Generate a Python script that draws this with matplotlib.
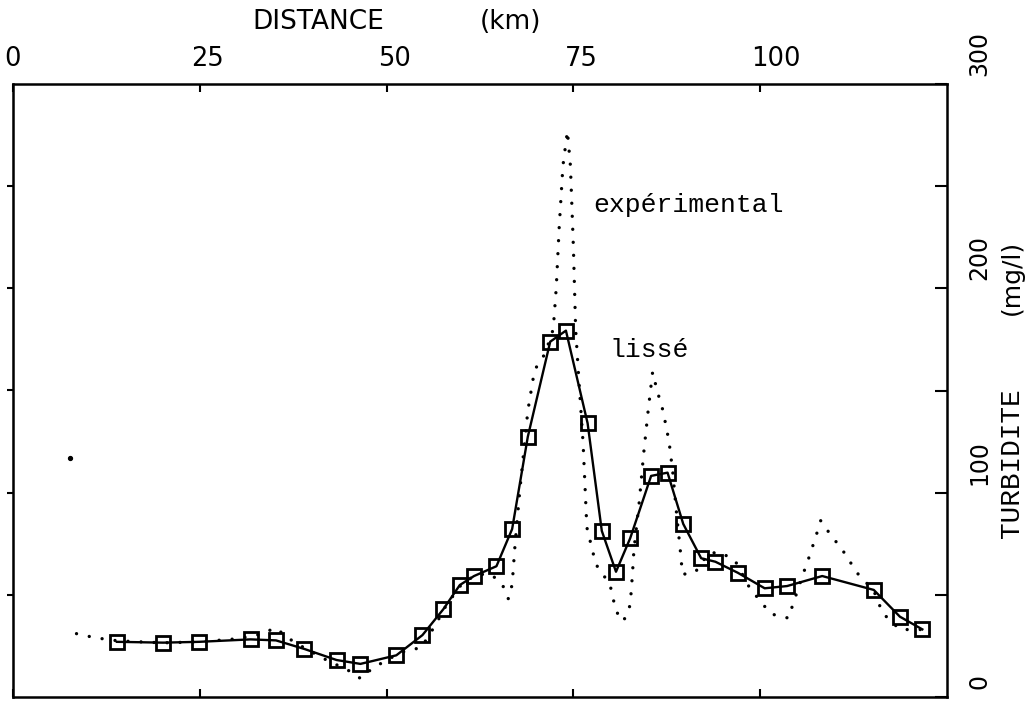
import matplotlib
matplotlib.use("Agg")
import matplotlib.pyplot as plt
import matplotlib.transforms as mtransforms
from matplotlib import font_manager

# ---- data -------------------------------------------------------------
dist_lisse = [13.9, 20.1, 24.9, 31.8, 35.2, 39.0, 43.3, 46.5, 51.3, 54.8,
              57.6, 59.8, 61.7, 64.7, 66.8, 68.9, 71.9, 74.0, 76.9, 78.8,
              80.7, 82.6, 85.4, 87.6, 89.7, 92.1, 94.0, 97.0, 100.6, 103.6,
              108.3, 115.2, 118.7, 121.7]
turb_lisse = [27.0, 26.6, 27.0, 28.2, 27.7, 23.5, 18.1, 16.2, 20.4, 30.3,
              43.0, 54.8, 59.2, 64.0, 82.2, 127.4, 173.9, 179.3, 134.0, 81.3,
              61.3, 77.7, 108.2, 109.8, 84.7, 67.9, 66.2, 60.8, 53.2, 54.3,
              59.2, 52.4, 39.3, 33.1]

dist_exp = [8.5, 11.0, 14.0, 20.0, 25.0, 30.0, 33.3, 35.1, 37.1, 39.0,
            42.0, 44.8, 46.5, 48.2, 51.0, 52.8, 54.6, 56.5, 58.0, 60.0,
            62.0, 64.0, 65.5, 66.3, 66.8, 67.2, 67.8, 68.9, 69.8, 71.2,
            72.3, 72.7, 73.1, 73.6, 74.2, 74.6, 75.0, 75.3, 75.7, 76.3,
            76.8, 78.0, 79.9, 80.7, 81.7, 82.6, 82.9, 83.1, 83.8, 84.4,
            85.0, 85.6, 86.2, 87.0, 87.8, 88.3, 88.8, 89.3, 89.6, 91.3,
            93.0, 94.5, 96.6, 98.5, 100.2, 101.5, 103.8, 104.3, 105.6, 106.5,
            107.4, 108.1, 109.3, 111.0, 113.0, 115.2, 116.4, 118.7, 121.7]
turb_exp = [31.0, 29.0, 27.5, 26.5, 27.0, 28.5, 30.8, 33.9, 28.2, 24.0,
            18.0, 13.2, 9.1, 14.3, 20.0, 23.0, 24.0, 35.0, 45.0, 55.0,
            60.0, 60.0, 55.0, 48.0, 55.0, 75.0, 100.0, 140.0, 160.0, 168.0,
            180.0, 200.0, 230.0, 260.0, 277.0, 260.0, 220.0, 180.0, 157.0, 124.0,
            83.0, 65.0, 55.0, 42.0, 37.0, 45.0, 60.0, 72.0, 95.0, 119.0,
            140.0, 159.0, 150.0, 140.0, 125.0, 110.0, 90.0, 72.0, 60.0, 61.0,
            70.0, 71.0, 67.0, 54.0, 46.0, 40.6, 38.6, 44.5, 58.7, 68.0,
            78.0, 86.3, 80.0, 72.0, 60.6, 52.0, 41.0, 33.0, 33.0]

stray_dist = [7.6]
stray_turb = [117.0]

x_ticks = [0, 25, 50, 75, 100]
x_ticklabels = ["0", "25", "50", "75", "100"]
y_ticks = [0, 50, 100, 150, 200, 250, 300]
y_label_vals = [0, 100, 200, 300]
y_ticklabels = ["0", "100", "200", "300"]


def pick(*names):
    for n in names:
        try:
            font_manager.findfont(font_manager.FontProperties(family=n),
                                  fallback_to_default=False)
            return n
        except Exception:
            pass
    return "DejaVu Sans"


narrow = pick("Liberation Sans Narrow", "DejaVu Sans")
mono = pick("Liberation Mono", "DejaVu Sans Mono")

# ---- figure -----------------------------------------------------------
fig = plt.figure(figsize=(10.35, 7.07), dpi=100)
ax = fig.add_axes([13 / 1035, 10 / 707, 934 / 1035, 613 / 707])
ax.set_xlim(0, 125)
ax.set_ylim(0, 300)

for sp in ax.spines.values():
    sp.set_linewidth(1.8)

# experimental (dotted)
ax.plot(dist_exp, turb_exp, color="k", lw=2.4, ls=(0, (0.01, 3.9)),
        dash_capstyle="round")
ax.plot(stray_dist, stray_turb, "o", color="k", ms=2.8)

# smoothed (line + squares)
ax.plot(dist_lisse, turb_lisse, "-", color="k", lw=1.7, marker="s",
        ms=9.8, mfc="none", mec="k", mew=2.0)

# x ticks on top
ax.set_xticks(x_ticks)
ax.set_xticklabels([])
ax.tick_params(axis="x", top=True, bottom=True, labeltop=False,
               labelbottom=False, direction="in", length=6, width=1.5)
xtrans = mtransforms.blended_transform_factory(ax.transData, ax.transAxes)
xoff = mtransforms.ScaledTranslation(-0.09, 0.12, fig.dpi_scale_trans)
for v, s in zip(x_ticks, x_ticklabels):
    ax.text(v, 1, s, transform=xtrans + xoff, ha="left", va="bottom",
            fontsize=18.5, family="DejaVu Sans", clip_on=False)

# y ticks: right (inward), left (outward)
ax.set_yticks(y_ticks)
ax.yaxis.tick_right()
ax.tick_params(axis="y", direction="in", length=9, width=1.5,
               labelright=False, labelleft=False, left=False, right=True)
sec = ax.secondary_yaxis("left")
sec.set_yticks(y_ticks[1:-1])
sec.set_yticklabels([])
sec.tick_params(direction="out", length=4, width=1.5)

trans = mtransforms.blended_transform_factory(ax.transAxes, ax.transData)
off = mtransforms.ScaledTranslation(0.20, 0.08, fig.dpi_scale_trans)
for v, s in zip(y_label_vals, y_ticklabels):
    ax.text(1, v, s, transform=trans + off, rotation=90,
            rotation_mode="anchor", ha="left", va="top",
            fontsize=17, family=narrow, clip_on=False)

# axis titles
fig.text(318 / 1035, 1 - 22 / 707, "DISTANCE", ha="center", va="center",
         fontsize=19, family="DejaVu Sans")
fig.text(510 / 1035, 1 - 22 / 707, "(km)", ha="center", va="center",
         fontsize=19, family="DejaVu Sans")
fig.text(1012 / 1035, 1 - 463 / 707, "TURBIDITE", rotation=90,
         ha="center", va="center", fontsize=20, family=mono)
fig.text(1012 / 1035, 1 - 277 / 707, "(mg/l)", rotation=90,
         ha="center", va="center", fontsize=18, family="DejaVu Sans")

# curve annotations
ax.text(77.6, 237.4, "expérimental", fontsize=19, family=mono,
        ha="left", va="baseline")
ax.text(79.8, 166.4, "lissé", fontsize=19, family=mono,
        ha="left", va="baseline")

fig.savefig("out.png", dpi=100)
